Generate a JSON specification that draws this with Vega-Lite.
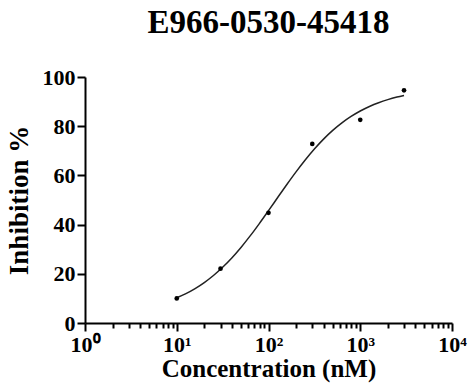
{
  "$schema": "https://vega.github.io/schema/vega-lite/v6.json",
  "autosize": "none",
  "padding": {"left": 85, "top": 77, "right": 17, "bottom": 62},
  "width": 367,
  "height": 246,
  "config": {
    "view": {"stroke": null},
    "font": "Liberation Serif",
    "axis": {"grid": false, "domainColor": "#000", "domainWidth": 2, "tickColor": "#000", "tickWidth": 2, "labelColor": "#000", "titleColor": "#000", "labelFont": "Liberation Serif", "titleFont": "Liberation Serif", "labelFontWeight": "bold", "titleFontWeight": "bold"}
  },
  "title": {"text": "E966-0530-45418", "font": "Liberation Serif", "fontSize": 33, "fontWeight": "bold", "color": "#000", "anchor": "middle", "offset": 26},
  "datasets": {
    "points": [
      {"conc": 10, "inh": 10.0},
      {"conc": 30, "inh": 22.1},
      {"conc": 100, "inh": 44.8},
      {"conc": 300, "inh": 72.8},
      {"conc": 1000, "inh": 82.6},
      {"conc": 3000, "inh": 94.6}
    ],
    "curve": [
      {"conc": 10, "inh": 10.27},
      {"conc": 12.589, "inh": 11.97},
      {"conc": 15.849, "inh": 14.01},
      {"conc": 19.953, "inh": 16.45},
      {"conc": 25.119, "inh": 19.32},
      {"conc": 31.623, "inh": 22.66},
      {"conc": 39.811, "inh": 26.46},
      {"conc": 50.119, "inh": 30.73},
      {"conc": 63.096, "inh": 35.4},
      {"conc": 79.433, "inh": 40.42},
      {"conc": 100, "inh": 45.66},
      {"conc": 125.89, "inh": 51.0},
      {"conc": 158.49, "inh": 56.31},
      {"conc": 199.53, "inh": 61.44},
      {"conc": 251.19, "inh": 66.27},
      {"conc": 316.23, "inh": 70.73},
      {"conc": 398.11, "inh": 74.74},
      {"conc": 501.19, "inh": 78.28},
      {"conc": 630.96, "inh": 81.35},
      {"conc": 794.33, "inh": 83.97},
      {"conc": 1000, "inh": 86.18},
      {"conc": 1258.9, "inh": 88.03},
      {"conc": 1584.9, "inh": 89.56},
      {"conc": 1995.3, "inh": 90.81},
      {"conc": 2511.9, "inh": 91.83},
      {"conc": 3000, "inh": 92.48}
    ]
  },
  "layer": [
    {
      "data": {"name": "curve"},
      "mark": {"type": "line", "color": "#222", "strokeWidth": 1.5, "interpolate": "monotone"},
      "encoding": {
        "x": {"field": "conc", "type": "quantitative",
          "scale": {"type": "log", "domain": [1, 10000], "nice": false},
          "axis": {
            "title": "Concentration (nM)", "titleFontSize": 25, "titlePadding": 1,
            "values": [1,2,3,4,5,6,7,8,9,10,20,30,40,50,60,70,80,90,100,200,300,400,500,600,700,800,900,1000,2000,3000,4000,5000,6000,7000,8000,9000,10000],
            "labelExpr": "datum.value == 1 ? '10⁰' : datum.value == 10 ? '10¹' : datum.value == 100 ? '10²' : datum.value == 1000 ? '10³' : datum.value == 10000 ? '10⁴' : ''",
            "labelFontSize": 22, "labelPadding": 3, "labelFlush": false,
            "tickSize": {"condition": {"test": "indexof([1,10,100,1000,10000], datum.value) >= 0", "value": 8}, "value": 5}
          }
        },
        "y": {"field": "inh", "type": "quantitative",
          "scale": {"domain": [0, 100], "nice": false},
          "axis": {
            "title": "Inhibition %", "titleFontSize": 27, "titlePadding": 9,
            "values": [0,10,20,30,40,50,60,70,80,90,100],
            "labelExpr": "datum.value % 20 == 0 ? datum.label : ''",
            "labelFontSize": 22, "labelPadding": 2,
            "tickSize": {"condition": {"test": "datum.value % 20 == 0", "value": 8}, "value": 4}
          }
        }
      }
    },
    {
      "data": {"name": "points"},
      "mark": {"type": "circle", "color": "#000", "size": 22, "opacity": 1},
      "encoding": {
        "x": {"field": "conc", "type": "quantitative"},
        "y": {"field": "inh", "type": "quantitative"}
      }
    }
  ]
}
